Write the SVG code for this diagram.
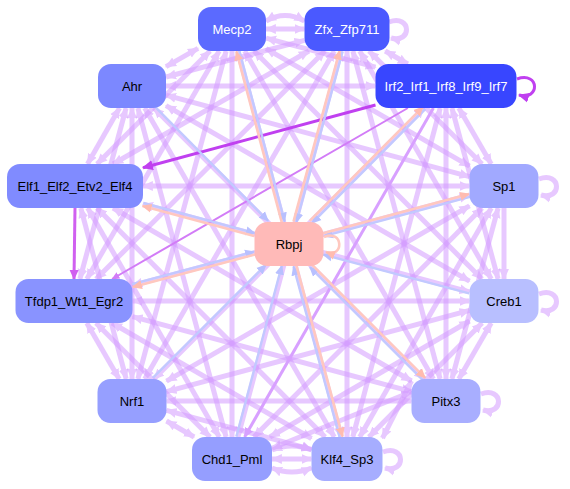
<svg xmlns="http://www.w3.org/2000/svg" width="570" height="489" viewBox="0 0 570 489">
<style>
.e{stroke:#d49cff;stroke-width:5;opacity:.55;fill:none;marker-start:url(#ap);marker-end:url(#ap)}
.e1{stroke:#d49cff;stroke-width:5;opacity:.55;fill:none;marker-end:url(#ap)}
.b{stroke:#c2c9ff;stroke-width:2.4;fill:none;marker-end:url(#ab)}
.k{stroke:#ffc8bf;stroke-width:2.6;fill:none;marker-end:url(#ak)}
.n rect{rx:13;ry:13}
.n text{font-family:"Liberation Sans",Arial,sans-serif;font-size:13px;text-anchor:middle;fill:#000}
.w text{fill:#fff}
</style>
<defs>
<marker id="ap" viewBox="0 0 10 10" refX="9" refY="5" markerWidth="11" markerHeight="11" markerUnits="userSpaceOnUse" orient="auto-start-reverse"><path d="M0,0.5 L10,5 L0,9.5 z" fill="#d49cff"/></marker>
<marker id="ab" viewBox="0 0 10 10" refX="9" refY="5" markerWidth="10" markerHeight="10" markerUnits="userSpaceOnUse" orient="auto"><path d="M0,0.5 L10,5 L0,9.5 z" fill="#b8c0ff"/></marker>
<marker id="ak" viewBox="0 0 10 10" refX="9" refY="5" markerWidth="10" markerHeight="10" markerUnits="userSpaceOnUse" orient="auto"><path d="M0,0.5 L10,5 L0,9.5 z" fill="#ffbcb0"/></marker>
<marker id="am" viewBox="0 0 10 10" refX="9" refY="5" markerWidth="11" markerHeight="11" markerUnits="userSpaceOnUse" orient="auto"><path d="M0,0.5 L10,5 L0,9.5 z" fill="#c040f0"/></marker>
<marker id="am2" viewBox="0 0 10 10" refX="9" refY="5" markerWidth="10" markerHeight="10" markerUnits="userSpaceOnUse" orient="auto"><path d="M0,0.5 L10,5 L0,9.5 z" fill="#d060f0"/></marker>
<marker id="am3" viewBox="0 0 10 10" refX="9" refY="5" markerWidth="8" markerHeight="8" markerUnits="userSpaceOnUse" orient="auto"><path d="M0,0.5 L10,5 L0,9.5 z" fill="#d27cf7"/></marker>
<marker id="am4" viewBox="0 0 10 10" refX="9" refY="5" markerWidth="10" markerHeight="10" markerUnits="userSpaceOnUse" orient="auto"><path d="M0,0.5 L10,5 L0,9.5 z" fill="#d8a0ff"/></marker>
</defs>
<g id="edges">
<line class="e" x1="266" y1="29" x2="304.5" y2="29"/>
<line class="e" x1="266" y1="38.1" x2="375.5" y2="67.2"/>
<line class="e" x1="266" y1="48.6" x2="469.5" y2="166.1"/>
<line class="e" x1="254" y1="51" x2="482" y2="279"/>
<line class="e" x1="244.7" y1="51" x2="433.4" y2="379"/>
<line class="e" x1="237.9" y1="51" x2="341.1" y2="437"/>
<line class="e" x1="232" y1="51" x2="232" y2="437"/>
<line class="e" x1="226.1" y1="51" x2="137.9" y2="379"/>
<line class="e" x1="219.2" y1="51" x2="86.8" y2="279"/>
<line class="e" x1="210" y1="51" x2="97" y2="164"/>
<line class="e" x1="198" y1="48.4" x2="166" y2="66.6"/>
<line class="e" x1="385.2" y1="51" x2="407.8" y2="64"/>
<line class="e" x1="369" y1="51" x2="482" y2="164"/>
<line class="e" x1="359.7" y1="51" x2="491.3" y2="279"/>
<line class="e" x1="352.9" y1="51" x2="440.1" y2="379"/>
<line class="e" x1="347" y1="51" x2="347" y2="437"/>
<line class="e" x1="341.1" y1="51" x2="237.9" y2="437"/>
<line class="e" x1="334.3" y1="51" x2="144.7" y2="379"/>
<line class="e" x1="324.9" y1="51" x2="96.1" y2="279"/>
<line class="e" x1="308.9" y1="51" x2="113.1" y2="164"/>
<line class="e" x1="304.5" y1="40.3" x2="166" y2="77"/>
<line class="e" x1="458.8" y1="108" x2="491.2" y2="164"/>
<line class="e" x1="451.9" y1="108" x2="498.1" y2="279"/>
<line class="e" x1="446" y1="108" x2="446" y2="379"/>
<line class="e" x1="440.2" y1="108" x2="352.8" y2="437"/>
<line class="e" x1="424.1" y1="108" x2="153.9" y2="379"/>
<line class="e" x1="375.5" y1="86" x2="166" y2="86"/>
<line class="e1" x1="504" y1="208" x2="504" y2="279"/>
<line class="e" x1="498.1" y1="208" x2="451.9" y2="379"/>
<line class="e" x1="491.3" y1="208" x2="359.7" y2="437"/>
<line class="e" x1="482.1" y1="208" x2="253.9" y2="437"/>
<line class="e" x1="469.5" y1="205.9" x2="166.5" y2="381.1"/>
<line class="e" x1="469.5" y1="195.2" x2="132.5" y2="285.4"/>
<line class="e" x1="469.5" y1="186" x2="143" y2="186"/>
<line class="e" x1="469.5" y1="176.7" x2="166" y2="95.1"/>
<line class="e" x1="491.2" y1="323" x2="458.8" y2="379"/>
<line class="e" x1="482.1" y1="323" x2="368.9" y2="437"/>
<line class="e" x1="469.5" y1="321" x2="269.9" y2="437"/>
<line class="e" x1="469.5" y1="310.3" x2="166.5" y2="391.7"/>
<line class="e" x1="469.5" y1="301" x2="132.5" y2="301"/>
<line class="e" x1="469.5" y1="291.8" x2="143" y2="204.2"/>
<line class="e" x1="469.5" y1="281.1" x2="166" y2="105.7"/>
<line class="e" x1="411.5" y1="380.8" x2="382.5" y2="438.2"/>
<line class="e" x1="411.5" y1="391.7" x2="272" y2="448.2"/>
<line class="e" x1="411.5" y1="401" x2="166.5" y2="401"/>
<line class="e" x1="411.5" y1="391.7" x2="132.5" y2="316.7"/>
<line class="e" x1="411.5" y1="381" x2="113" y2="208"/>
<line class="e" x1="424.1" y1="379" x2="153.9" y2="108"/>
<line class="e" x1="311.5" y1="459" x2="272" y2="459"/>
<line class="e" x1="311.5" y1="449.4" x2="166.5" y2="410.3"/>
<line class="e" x1="311.5" y1="438.5" x2="112" y2="323"/>
<line class="e" x1="325.1" y1="437" x2="96.9" y2="208"/>
<line class="e" x1="334.3" y1="437" x2="144.7" y2="108"/>
<line class="e" x1="194.1" y1="437" x2="166.5" y2="421"/>
<line class="e" x1="210" y1="437" x2="96" y2="323"/>
<line class="e" x1="219.3" y1="437" x2="87.7" y2="208"/>
<line class="e" x1="226.1" y1="437" x2="137.9" y2="108"/>
<line class="e" x1="119.2" y1="379" x2="86.8" y2="323"/>
<line class="e" x1="126.2" y1="379" x2="80.8" y2="208"/>
<line class="e" x1="132" y1="379" x2="132" y2="108"/>
<line class="e" x1="79.9" y1="279" x2="126.1" y2="108"/>
<line class="e" x1="87.5" y1="164" x2="119.5" y2="108"/>
<path class="e" d="M266,21 Q285,10 304.5,21"/>
<path class="e" d="M272,450 Q292,442 311.5,450"/>
<path class="e" d="M272,468 Q292,476 311.5,468"/>
<path class="e1" d="M389,22 C412,14 412,44 391,38"/>
<path class="e1" d="M539,179 C562,171 562,201 541,195"/>
<path class="e1" d="M539,294 C562,286 562,316 541,310"/>
<path class="e1" d="M481,394 C504,386 504,416 483,410"/>
<path class="e1" d="M383,452 C406,444 406,474 385,468"/>
<line x1="433.4" y1="108" x2="244.6" y2="437" stroke="#d8a0ff" stroke-width="3" marker-end="url(#am4)"/>
<line x1="407.9" y1="108" x2="112.1" y2="279" stroke="#d27cf7" stroke-width="2" marker-end="url(#am3)"/>
<line x1="375.5" y1="105" x2="143" y2="167.7" stroke="#c040f0" stroke-width="3" marker-end="url(#am)"/>
<line x1="75" y1="208" x2="74" y2="279" stroke="#d060f0" stroke-width="3" marker-end="url(#am2)"/>
<path d="M517,79 C540,71 540,101 519,95" stroke="#c040f0" stroke-width="3" fill="none" marker-end="url(#am)"/>
<line class="b" x1="239.3" y1="50.6" x2="284.7" y2="221.6"/>
<line class="b" x1="342.6" y1="51.4" x2="296.4" y2="222.4"/>
<line class="b" x1="425.2" y1="109.1" x2="312" y2="223.1"/>
<line class="b" x1="469.9" y1="196.8" x2="323.9" y2="236.2"/>
<line class="b" x1="469.1" y1="293.4" x2="323.1" y2="254.6"/>
<line class="b" x1="422.9" y1="380.1" x2="309.9" y2="267.1"/>
<line class="b" x1="339.7" y1="437.4" x2="293.5" y2="266.4"/>
<line class="b" x1="236.4" y1="436.6" x2="281.8" y2="265.6"/>
<line class="b" x1="152.9" y1="377.9" x2="265.9" y2="264.9"/>
<line class="b" x1="132.1" y1="284.1" x2="254.1" y2="251.7"/>
<line class="b" x1="143.4" y1="203" x2="254.9" y2="233.2"/>
<line class="b" x1="155.1" y1="106.9" x2="268.1" y2="220.9"/>
<line class="k" x1="281.8" y1="222.4" x2="236.4" y2="51.4"/>
<line class="k" x1="293.5" y1="221.6" x2="339.7" y2="50.6"/>
<line class="k" x1="309.8" y1="220.9" x2="423" y2="106.9"/>
<line class="k" x1="323.1" y1="233.3" x2="469.1" y2="193.9"/>
<line class="k" x1="312.1" y1="264.9" x2="425.1" y2="377.9"/>
<line class="k" x1="296.4" y1="265.6" x2="342.6" y2="436.6"/>
<line class="k" x1="254.9" y1="254.6" x2="132.9" y2="287"/>
<line class="k" x1="254.1" y1="236.1" x2="142.6" y2="205.9"/>
<path class="k" d="M324,237 C344,229 344,259 326,252"/>
</g>
<g id="Mecp2" class="n w"><rect x="198" y="7" width="68" height="44" fill="#5b6aff"/><text x="232" y="33.5">Mecp2</text></g>
<g id="Zfx_Zfp711" class="n w"><rect x="304.5" y="7" width="85" height="44" fill="#4a59ff"/><text x="347" y="33.5">Zfx_Zfp711</text></g>
<g id="Irf2_Irf1_Irf8_Irf9_Irf7" class="n w"><rect x="375.5" y="64" width="141" height="44" fill="#3846ff"/><text x="446" y="90.5">Irf2_Irf1_Irf8_Irf9_Irf7</text></g>
<g id="Ahr" class="n"><rect x="98" y="64" width="68" height="44" fill="#7c88ff"/><text x="132" y="90.5">Ahr</text></g>
<g id="Elf1_Elf2_Etv2_Elf4" class="n"><rect x="7" y="164" width="136" height="44" fill="#808bff"/><text x="75" y="190.5">Elf1_Elf2_Etv2_Elf4</text></g>
<g id="Tfdp1_Wt1_Egr2" class="n"><rect x="15.5" y="279" width="117" height="44" fill="#8993ff"/><text x="74" y="305.5">Tfdp1_Wt1_Egr2</text></g>
<g id="Nrf1" class="n"><rect x="97.5" y="379" width="69" height="44" fill="#969fff"/><text x="132" y="405.5">Nrf1</text></g>
<g id="Chd1_Pml" class="n"><rect x="192" y="437" width="80" height="44" fill="#959eff"/><text x="232" y="463.5">Chd1_Pml</text></g>
<g id="Klf4_Sp3" class="n"><rect x="311.5" y="437" width="71" height="44" fill="#a6adff"/><text x="347" y="463.5">Klf4_Sp3</text></g>
<g id="Pitx3" class="n"><rect x="411.5" y="379" width="69" height="44" fill="#a8aeff"/><text x="446" y="405.5">Pitx3</text></g>
<g id="Sp1" class="n"><rect x="469.5" y="164" width="69" height="44" fill="#a1a9ff"/><text x="504" y="190.5">Sp1</text></g>
<g id="Creb1" class="n"><rect x="469.5" y="279" width="69" height="44" fill="#b8bfff"/><text x="504" y="305.5">Creb1</text></g>
<g id="Rbpj" class="n"><rect x="254.5" y="222" width="69" height="44" fill="#ffbab8"/><text x="289" y="248.5">Rbpj</text></g>
</svg>
